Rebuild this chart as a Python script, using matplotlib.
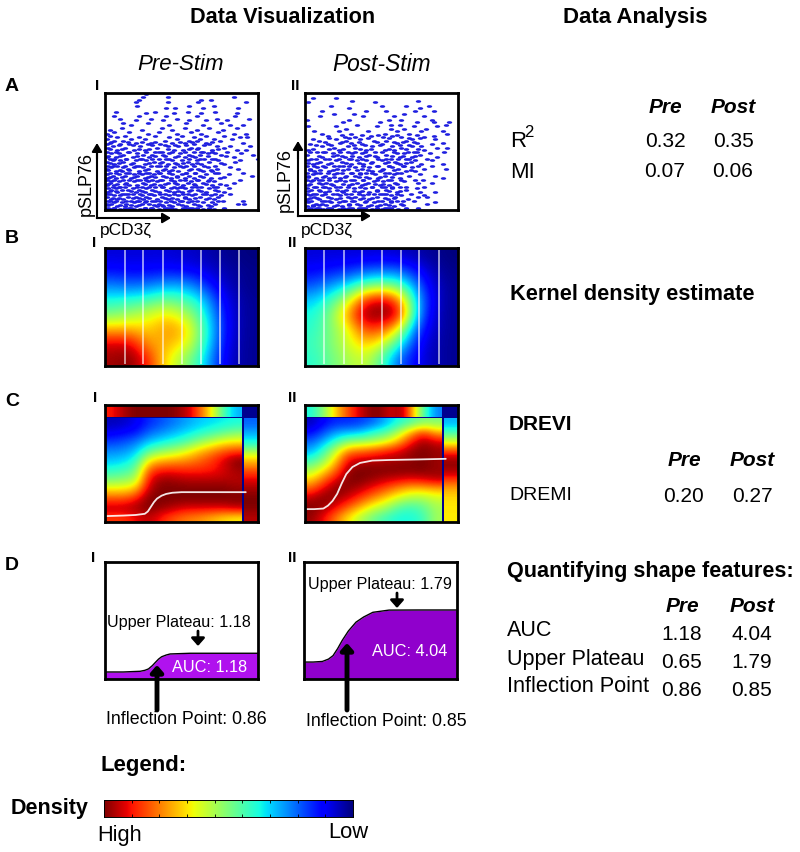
#!/usr/bin/env python3
# rebuild of the DREMI/DREVI figure, panels placed by pixel position
import numpy as np
import matplotlib
matplotlib.use("Agg")
from matplotlib import pyplot as plt
from matplotlib.path import Path
from matplotlib.transforms import Affine2D

plt.rcParams['font.family'] = ['Liberation Sans', 'DejaVu Sans']

pre_levels = [99, 96.5, 94, 92, 89, 87.5, 84, 82.5, 80, 78, 76.5, 74, 72.5, 70, 68, 66.5, 65, 63.5, 62, 60.5, 59, 57.5, 56, 54.5, 53, 51.5, 50, 48.5, 47, 45.5, 44, 42.5, 41, 39.5, 38, 36.5, 35, 33.5, 32, 30.5, 29, 27.5, 26, 24.5, 23, 21.5, 20, 18.5, 17, 15.5, 14, 12.5, 11, 9.5, 8, 6.5, 5, 3.5, 2, .8]
pre_x = [
    [27],
    [41, 25, 84],
    [63, 69, 22],
    [20, 41, 61, 92],
    [21, 55, 71],
    [40, 46, 64, 87],
    [7, 33, 54, 72],
    [27, 45, 63, 86],
    [6, 22, 60, 85, 40],
    [10, 30, 47, 73, 94],
    [20, 38, 55, 66, 80],
    [12, 28, 53, 76],
    [17, 42, 64, 82, 90],
    [11, 37, 52, 68, 86],
    [24, 44, 60, 77, 3],
    [6, 16, 35, 56, 74],
    [1, 28, 47, 63, 84, 92],
    [3, 13, 33, 50, 66, 78],
    [8, 22, 42, 58, 88, 93],
    [1, 17, 26, 47, 62, 71, 83],
    [6, 12, 39, 55, 60, 75],
    [3, 20, 30, 44, 52, 66, 90],
    [1, 10, 16, 28, 36, 58, 68],
    [5, 23, 41, 48, 73, 82, 95],
    [2, 13, 34, 56, 61, 78],
    [8, 19, 26, 45, 51, 70, 86, 92],
    [1, 15, 33, 37, 58, 64, 80],
    [4, 9, 21, 42, 49, 67, 72, 89],
    [12, 25, 31, 38, 55, 62, 76, 97],
    [1, 7, 18, 29, 46, 52, 59, 84],
    [3, 14, 23, 35, 40, 65, 70, 100],
    [5, 10, 20, 27, 44, 50, 60, 74, 88],
    [1, 12, 32, 37, 54, 68, 85],
    [6, 17, 26, 41, 47, 57, 63, 78],
    [2, 8, 22, 30, 36, 53, 72],
    [4, 12, 19, 25, 45, 51, 67, 82],
    [1, 15, 28, 39, 56, 61, 73, 87],
    [7, 11, 22, 34, 42, 48, 64, 70],
    [3, 16, 27, 36, 53, 59, 74, 90],
    [1, 9, 19, 24, 32, 44, 50, 66, 81],
    [5, 13, 21, 30, 38, 47, 55, 62, 96],
    [2, 7, 17, 26, 43, 52, 58, 69, 75],
    [1, 12, 23, 31, 37, 49, 60, 88],
    [4, 9, 19, 28, 34, 45, 56, 67, 71],
    [3, 14, 25, 41, 46, 54, 64, 84],
    [1, 6, 16, 21, 30, 36, 51, 59, 70, 79],
    [9, 13, 24, 33, 38, 49, 57, 63, 73],
    [2, 7, 18, 27, 43, 47, 52, 68, 81],
    [4, 11, 15, 22, 31, 40, 56, 61, 72],
    [1, 8, 20, 26, 35, 45, 50, 66, 78],
    [3, 13, 18, 29, 39, 54, 59, 64, 82],
    [6, 10, 24, 32, 42, 48, 57, 69, 76],
    [1, 15, 20, 27, 37, 52, 62, 74],
    [4, 8, 12, 25, 34, 41, 47, 55, 66, 71],
    [2, 17, 22, 31, 36, 50, 60, 77, 90],
    [6, 11, 19, 26, 40, 45, 54, 64, 70],
    [1, 4, 14, 24, 29, 35, 48, 58, 72, 87, 91],
    [8, 13, 20, 34, 38, 44, 53, 62, 69],
    [2, 6, 16, 26, 30, 41, 51, 55, 60, 78],
    [1, 4, 10, 19, 23, 35, 46, 64, 71],
]
# second pass over the dense lower part of the cloud
pre_fill_levels = [58.3, 55.3, 52.2, 49.3, 46.2, 43.3, 40.2, 37.3, 34.2, 31.3, 28.2, 25.3, 22.2, 19.3, 16.2, 13.3, 10.2, 7.3, 4.2, 1.3]
pre_fill_x = [
    [4, 15, 24, 33, 49, 57, 70],
    [9, 18, 31, 39, 46, 53, 65],
    [3, 11, 22, 29, 41, 55, 60, 74],
    [7, 16, 27, 35, 44, 52, 63, 70],
    [2, 10, 21, 33, 39, 48, 57, 67, 79],
    [6, 14, 24, 31, 42, 55, 62, 72],
    [3, 9, 18, 29, 36, 46, 51, 60, 76],
    [5, 13, 20, 34, 40, 49, 58, 65],
    [2, 10, 16, 26, 38, 44, 55, 62, 69],
    [7, 14, 22, 29, 35, 42, 53, 59, 72],
    [3, 11, 19, 28, 33, 40, 47, 64, 78],
    [6, 16, 21, 27, 36, 43, 52, 61, 68],
    [2, 8, 13, 26, 32, 39, 47, 58, 66, 75],
    [5, 10, 21, 29, 37, 45, 50, 60, 71],
    [3, 7, 17, 24, 33, 42, 48, 55, 63, 74],
    [1, 11, 15, 23, 30, 36, 45, 51, 66, 72],
    [5, 9, 18, 22, 29, 39, 44, 52, 59, 68],
    [3, 7, 14, 21, 27, 33, 43, 49, 57, 74],
    [2, 10, 17, 22, 32, 37, 42, 50, 61, 67],
    [6, 13, 17, 26, 31, 39, 43, 52, 57, 68],
]

post_levels = [96, 93.5, 92, 89, 87.5, 84.5, 82, 80, 77, 75.5, 73, 71.5, 69, 67.5, 65, 63.5, 62, 60.5, 59, 57.5, 56, 54.5, 53, 51.5, 50, 48.5, 47, 45.5, 44, 42.5, 41, 39.5, 38, 36.5, 35, 33.5, 32, 30.5, 29, 27.5, 26, 24.5, 23, 21.5, 20, 18.5, 17, 15.5, 14, 12.5, 11, 9.5, 8, 6.5, 5, 3.5, 2, .8]
post_x = [
    [5, 20],
    [31, 74],
    [46, 2],
    [17, 66, 81, 50],
    [29, 75],
    [11, 40, 53, 72, 84],
    [19, 32, 65],
    [10, 38, 58, 78],
    [29, 55, 63, 83, 1],
    [25, 49, 73, 84, 94],
    [34, 56, 62, 92],
    [20, 47, 71, 86, 2],
    [27, 56, 65, 79],
    [6, 22, 41, 60, 76, 90],
    [30, 52, 68, 93, 11],
    [15, 43, 57, 84],
    [26, 33, 51, 63, 78],
    [5, 20, 36, 70, 85],
    [9, 27, 45, 53, 66],
    [23, 30, 60, 73, 90],
    [3, 15, 37, 50, 83],
    [11, 28, 44, 57, 70, 76],
    [19, 33, 63, 86, 93],
    [2, 22, 40, 52, 58, 78],
    [8, 13, 28, 46, 71, 91],
    [18, 31, 37, 60, 65, 82],
    [1, 21, 42, 53, 75],
    [11, 26, 35, 47, 62, 70, 86],
    [7, 16, 29, 56, 66, 80],
    [2, 20, 34, 40, 50, 72, 83],
    [10, 24, 44, 54, 59, 69],
    [5, 15, 30, 38, 62, 76, 90],
    [1, 19, 25, 48, 55, 65, 83],
    [8, 13, 33, 42, 57, 70],
    [3, 21, 28, 37, 51, 61, 78, 92],
    [6, 16, 44, 49, 66, 72],
    [1, 10, 24, 31, 40, 55, 63],
    [5, 19, 36, 46, 58, 75],
    [2, 13, 27, 33, 52, 68, 85],
    [7, 16, 23, 42, 48, 62, 90],
    [1, 11, 30, 38, 56, 72, 77],
    [4, 20, 26, 45, 51, 65],
    [9, 14, 34, 41, 59, 74, 83],
    [2, 18, 29, 37, 49, 55],
    [6, 12, 23, 44, 52, 62, 78],
    [1, 16, 32, 39, 57, 73],
    [4, 9, 21, 27, 47, 53, 66],
    [13, 25, 35, 42, 60, 75, 85],
    [1, 7, 18, 30, 45, 51, 69],
    [3, 11, 23, 38, 56, 63, 78],
    [6, 15, 28, 33, 47, 59, 74, 80],
    [1, 9, 20, 36, 42, 54, 67],
    [4, 13, 25, 31, 50, 60, 71],
    [2, 17, 22, 39, 45, 56, 85],
    [7, 11, 29, 34, 52, 63, 80],
    [1, 5, 19, 24, 41, 47, 58],
    [9, 15, 31, 37, 54, 66, 74],
    [2, 6, 12, 22, 27, 44, 50, 61],
]
post_fill_levels = [64.3, 61.3, 58.2, 55.3, 52.2, 49.3, 46.2, 43.3, 40.2, 37.3, 34.2, 31.3, 28.2, 25.3, 22.2, 19.3, 16.2, 13.3, 10.2, 7.3, 4.2, 1.3]
post_fill_x = [
    [24, 37, 48, 60, 73],
    [16, 29, 41, 55, 68, 75],
    [13, 24, 35, 47, 58, 64, 71],
    [7, 17, 32, 39, 49, 62, 68],
    [5, 16, 25, 36, 43, 55, 66, 74],
    [3, 12, 23, 33, 39, 50, 58, 67, 73],
    [9, 18, 24, 31, 40, 46, 57, 64, 72],
    [4, 13, 22, 30, 37, 48, 53, 61, 68],
    [2, 8, 17, 27, 35, 43, 52, 60, 66],
    [6, 12, 22, 29, 38, 47, 55, 64, 74],
    [3, 10, 18, 25, 34, 41, 50, 58, 69],
    [7, 15, 21, 30, 36, 44, 52, 60],
    [2, 12, 19, 26, 35, 40, 49, 57],
    [5, 9, 16, 23, 32, 38, 47, 54, 63],
    [3, 11, 17, 25, 31, 39, 46, 51, 60],
    [7, 13, 20, 28, 36, 44, 50, 57, 66],
    [2, 10, 16, 24, 32, 37, 47, 55, 62],
    [5, 13, 21, 27, 35, 41, 49, 53, 60],
    [3, 8, 17, 23, 30, 38, 44, 52, 58],
    [1, 11, 16, 26, 32, 40, 48, 56, 64],
    [5, 9, 14, 21, 29, 36, 43, 49, 55, 64],
    [3, 8, 17, 25, 29, 35, 39, 47, 52, 56],
]

# kernel density grids, jet value 0-1, bottom row first
kde_pre = [
    [.97, 1.0, .88, .68, .55, .42, .20, .05, .02],
    [.93, .93, .75, .72, .68, .50, .24, .06, .02],
    [.72, .72, .68, .75, .74, .52, .26, .07, .02],
    [.50, .55, .60, .67, .60, .46, .24, .07, .02],
    [.38, .40, .42, .48, .44, .38, .19, .06, .02],
    [.25, .22, .24, .28, .29, .22, .11, .04, .01],
    [.13, .12, .12, .13, .12, .10, .06, .03, .01],
    [.08, .08, .08, .08, .07, .06, .03, .01, .00],
]
kde_post = [
    [.40, .48, .55, .60, .45, .22, .12, .05, .02],
    [.42, .50, .60, .70, .62, .40, .15, .05, .02],
    [.40, .50, .62, .84, .84, .64, .22, .07, .02],
    [.38, .50, .74, 1.0, 1.0, .97, .34, .08, .02],
    [.32, .42, .58, .86, .95, .82, .34, .10, .02],
    [.20, .27, .34, .46, .50, .46, .26, .08, .02],
    [.12, .14, .16, .20, .22, .22, .14, .05, .01],
    [.08, .08, .08, .08, .08, .07, .04, .02, .00],
]
kde_lines_pre = [.129, .251, .378, .502, .627, .753, .876]
kde_lines_post = [.126, .253, .375, .501, .625, .745, .874]

# DREVI grids, bottom row first
drevi_pre = [
    [.85, .85, .90, .95, .88, .82, .78, .76, .72, .68, .65],
    [.95, .95, .97, 1.0, .98, .95, .92, .92, .92, .92, .95],
    [.82, .82, .88, 1.0, 1.0, 1.0, 1.0, 1.0, 1.0, 1.0, 1.0],
    [.66, .66, .70, .95, 1.0, 1.0, 1.0, 1.0, 1.0, 1.0, .98],
    [.50, .52, .56, .90, .98, .97, .95, .95, .95, .95, .95],
    [.40, .42, .48, .82, .88, .88, .87, .87, .88, .92, .97],
    [.32, .34, .40, .66, .72, .74, .76, .80, .85, .92, 1.0],
    [.26, .27, .32, .46, .52, .56, .62, .70, .76, .82, .85],
    [.18, .20, .24, .32, .36, .40, .44, .52, .58, .64, .66],
    [.10, .12, .14, .22, .26, .30, .34, .38, .42, .46, .50],
    [.05, .06, .10, .16, .20, .24, .28, .32, .34, .36, .38],
]
drevi_post = [
    [.98, .90, .78, .66, .56, .48, .42, .38, .38, .42, .55],
    [1.0, .97, .90, .80, .70, .60, .55, .45, .42, .46, .55],
    [.95, 1.0, .97, .92, .84, .76, .68, .60, .55, .55, .60],
    [.82, .92, 1.0, .98, .94, .88, .82, .75, .70, .70, .72],
    [.68, .80, .92, 1.0, 1.0, .97, .94, .92, .90, .92, .95],
    [.55, .66, .80, .98, 1.0, 1.0, 1.0, 1.0, 1.0, 1.0, .98],
    [.42, .52, .70, .92, .95, .95, .96, .97, .98, 1.0, .97],
    [.30, .42, .60, .78, .80, .84, .88, .92, .98, 1.0, .98],
    [.22, .30, .42, .52, .54, .56, .62, .72, .88, .98, .92],
    [.12, .20, .28, .30, .32, .40, .44, .56, .72, .85, .72],
    [.05, .12, .16, .16, .18, .22, .30, .38, .44, .50, .50],
]
top_pre = [.88, .95, 1.0, 1.0, 1.0, 1.0, .98, .92, .78, .62, .42, .30]
top_post = [.38, .50, .66, .80, .90, .98, 1.0, .92, .98, .70, .42, .25]
right_pre = [.95, 1.0, 1.0, .95, .88, .76, .62, .40, .30, .22]  # bottom to top
right_post = [.66, .66, .68, .76, .92, 1.0, .92, .66, .45, .30]

# response curves, fraction of box width/height
drevi_curve_pre_x = [0, .12, .20, .26, .28, .30, .32, .34, .37, .40, .44, .50, .70, .92]
drevi_curve_pre_y = [.05, .055, .06, .07, .09, .13, .17, .20, .225, .24, .25, .255, .255, .255]
drevi_curve_post_x = [0, .06, .12, .15, .18, .21, .24, .27, .31, .36, .44, .55, .75, .92]
drevi_curve_post_y = [.11, .11, .115, .14, .18, .24, .33, .41, .47, .505, .525, .53, .535, .54]

shape_pre_x = [0, .12, .23, .26, .284, .31, .33, .35, .37, .40, .426, .557, .75, 1]
shape_pre_y = [.06, .06, .066, .074, .086, .115, .143, .17, .19, .205, .214, .22, .22, .22]
shape_post_x = [0, .06, .12, .16, .19, .22, .25, .29, .34, .39, .45, .556, .75, 1]
shape_post_y = [.145, .145, .15, .17, .20, .26, .33, .41, .486, .53, .57, .589, .59, .59]

pre_vals = ["0.32", "0.07", "0.20", "1.18", "0.65", "0.86"]
post_vals = ["0.35", "0.06", "0.27", "4.04", "1.79", "0.85"]

fig = plt.figure(figsize=(8, 8.53), dpi=100)
W, H = 800.0, 853.0


def box_axes(x0, y0, x1, y1, lw=2.0):
    ax = fig.add_axes([x0 / W, 1 - y1 / H, (x1 - x0) / W, (y1 - y0) / H])
    ax.set_xlim(0, 1)
    ax.set_ylim(0, 1)
    ax.set_xticks([])
    ax.set_yticks([])
    for s in ax.spines.values():
        s.set_linewidth(lw)
    return ax


def heat(ax, grid, extent):
    ax.imshow(grid, origin='lower', extent=extent, aspect='auto', cmap='jet',
              vmin=0, vmax=1, interpolation='bicubic')


# row A
dot = Path.unit_circle().transformed(Affine2D().scale(1.0, .5))
for x0, levels, rows in [(105, pre_levels + pre_fill_levels, pre_x + pre_fill_x),
                         (305, post_levels + post_fill_levels, post_x + post_fill_x)]:
    ax = box_axes(x0, 94, x0 + 153, 211)
    ax.set_xlim(0, 100)
    ax.set_ylim(0, 100)
    xs = [v for row in rows for v in row]
    ys = [lv for lv, row in zip(levels, rows) for v in row]
    ax.scatter(xs, ys, s=15, marker=dot, color='#1f1fe0', linewidths=0, clip_on=True)

# row B
for x0, grid, lines in [(105, kde_pre, kde_lines_pre), (305, kde_post, kde_lines_post)]:
    ax = box_axes(x0, 249, x0 + 153, 367)
    heat(ax, grid, (0, 1, 0, 1))
    ax.vlines(lines, .015, .985, color='white', lw=1.1, alpha=.75)
    ax.set_xlim(0, 1)
    ax.set_ylim(0, 1)

# row C
for x0, grid, top, right, cx, cy in [
        (105, drevi_pre, top_pre, right_pre, drevi_curve_pre_x, drevi_curve_pre_y),
        (305, drevi_post, top_post, right_post, drevi_curve_post_x, drevi_curve_post_y)]:
    ax = box_axes(x0, 406, x0 + 153, 523)
    ax.set_facecolor('#000090')
    heat(ax, grid, (0, .895, 0, .885))
    heat(ax, [top], (0, .895, .90, 1))
    heat(ax, [[v] for v in right], (.91, 1, 0, .885))
    ax.plot(cx, cy, color='white', lw=1.3, alpha=.9, solid_capstyle='round')
    ax.set_xlim(0, 1)
    ax.set_ylim(0, 1)

# row D
for x0, cx, cy, fill in [(105, shape_pre_x, shape_pre_y, '#b012ee'),
                         (304, shape_post_x, shape_post_y, '#9000cc')]:
    ax = box_axes(x0, 563, x0 + 153, 680)
    ax.fill_between(cx, 0, cy, color=fill, lw=0)
    ax.plot(cx, cy, color='black', lw=1.0)

# legend bar
cax = box_axes(104, 801, 353, 818, lw=.7)
cax.imshow([np.linspace(1, 0, 256)], extent=(0, 1, 0, 1), aspect='auto', cmap='jet', vmin=0, vmax=1)
cax.set_xticks(np.arange(1, 9 + 1) / 9.0 * 1.0)
cax.tick_params(axis='x', direction='in', length=2, width=.6, labelbottom=False, top=True)
cax.set_xlim(0, 1)

# everything else in pixel space on a clear overlay
ov = fig.add_axes([0, 0, 1, 1], zorder=10)
ov.set_xlim(0, W)
ov.set_ylim(H, 0)
ov.axis('off')


def txt(x, y, s, size=14, ha='left', **kw):
    ov.text(x, y, s, fontsize=size, ha=ha, va='center', **kw)


def arrow(x0, y0, x1, y1, lw=1.5, head=.35, hw=.3):
    ov.annotate('', xy=(x1, y1), xytext=(x0, y0),
                arrowprops=dict(arrowstyle=f'-|>,head_length={head},head_width={hw}',
                                color='black', lw=lw, shrinkA=0, shrinkB=0))


txt(283, 17, "Data Visualization", 15.6, ha='center', weight='bold')
txt(635, 17, "Data Analysis", 16, ha='center', weight='bold')
txt(181, 64, "Pre-Stim", 16, ha='center', style='italic')
txt(382, 64, "Post-Stim", 16.4, ha='center', style='italic')

for lab, y in [("A", 86), ("B", 238), ("C", 402), ("D", 565)]:
    txt(5, y, lab, 14, weight='bold')
for x, y, s in [(95, 86, "I"), (291, 86, "II"), (92, 243, "I"), (288, 243, "II"),
                (93, 398, "I"), (288, 398, "II"), (91, 558, "I"), (288, 558, "II")]:
    txt(x, y, s, 11, weight='bold')

# axis arrows row A
ov.plot([97, 97], [219, 150], color='black', lw=1.5)
ov.plot([97, 165], [219, 219], color='black', lw=1.5)
arrow(97, 160, 97, 144, head=.5, hw=.3)
arrow(150, 219, 171, 219, head=.5, hw=.3)
ov.plot([298, 298], [217, 150], color='black', lw=1.5)
ov.plot([298, 365], [217, 217], color='black', lw=1.5)
arrow(298, 160, 298, 142, head=.5, hw=.3)
arrow(350, 217, 371, 217, head=.5, hw=.3)
txt(86, 184, "pSLP76", 13, ha='center', rotation=90)
txt(285, 180, "pSLP76", 13, ha='center', rotation=90)
txt(100, 230, "pCD3ζ", 12.5)
txt(301, 230, "pCD3ζ", 12.5)

# row D annotations
txt(107, 622, "Upper Plateau: 1.18", 11.6)
arrow(198, 632, 198, 647, lw=2, head=.45, hw=.4)
txt(172, 667, "AUC: 1.18", 11.8, color='white')
txt(106, 720, "Inflection Point: 0.86", 12.8)
arrow(157, 711, 157, 666, lw=3.5, head=.4, hw=.35)
txt(308, 584, "Upper Plateau: 1.79", 11.6)
arrow(397, 594, 397, 609, lw=2, head=.45, hw=.4)
txt(372, 652, "AUC: 4.04", 11.8, color='white')
txt(306, 722, "Inflection Point: 0.85", 12.8)
arrow(347, 711, 347, 644, lw=3.5, head=.4, hw=.35)

# right column
for y, px, qx in [(107, 665, 733), (460, 684, 752), (606, 682, 752)]:
    txt(px, y, "Pre", 15, ha='center', weight='bold', style='italic')
    txt(qx, y, "Post", 15, ha='center', weight='bold', style='italic')
txt(510, 141, "R", 16)
txt(524.5, 132, "2", 12)
txt(510, 172, "MI", 16)
txt(510, 294, "Kernel density estimate", 15.7, weight='bold')
txt(509, 425, "DREVI", 15, weight='bold')
txt(509, 495, "DREMI", 14)
txt(507, 572, "Quantifying shape features:", 15.6, weight='bold')
txt(507, 631, "AUC", 15.5)
txt(507, 660, "Upper Plateau", 15.5)
txt(507, 686, "Inflection Point", 15.7)
for i, (y, px, qx) in enumerate([(141, 665, 733), (171, 665, 733), (496, 683, 752),
                                 (634, 682, 752), (663, 682, 752), (691, 682, 752)]):
    txt(px, y, pre_vals[i], 15, ha='center')
    txt(qx, y, post_vals[i], 15, ha='center')

# legend text
txt(101, 765, "Legend:", 15.9, weight='bold')
txt(11, 809, "Density", 15.5, weight='bold')
txt(97, 836, "High", 15.7)
txt(328, 833, "Low", 15.8)

fig.savefig("out.png", dpi=100)
